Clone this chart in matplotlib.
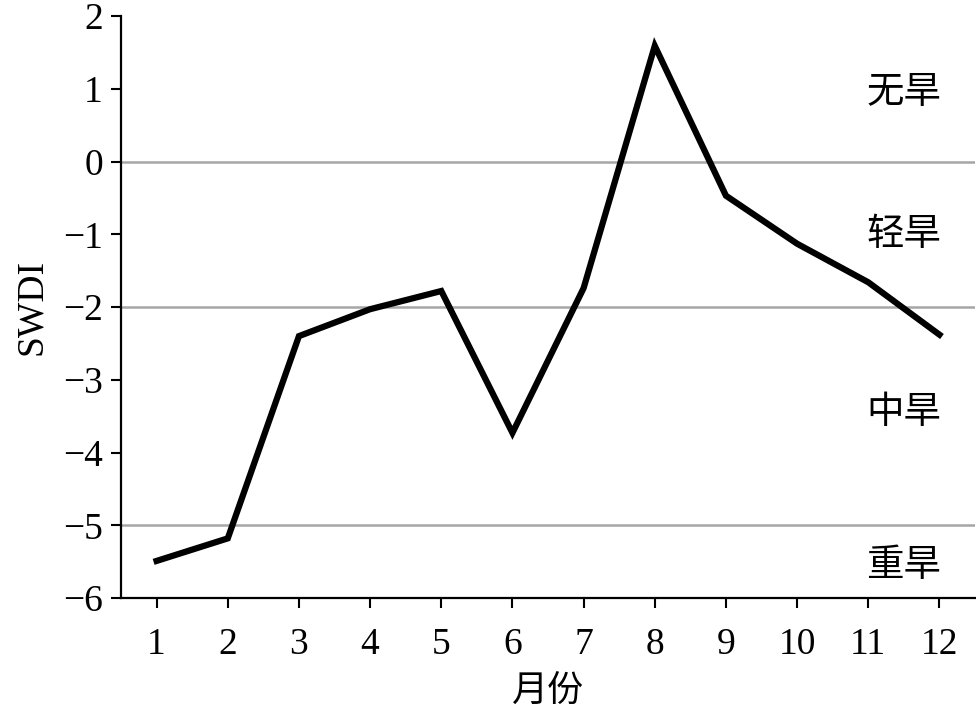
import matplotlib
matplotlib.use('Agg')
import matplotlib.pyplot as plt

# monthly SWDI values
months = [1, 2, 3, 4, 5, 6, 7, 8, 9, 10, 11, 12]
swdi = [-5.49, -5.18, -2.40, -2.03, -1.78, -3.73, -1.74, 1.59, -0.47, -1.13, -1.66, -2.38]

# drought class boundaries and labels
thresholds = [0, -2, -5]
class_labels = ['无旱', '轻旱', '中旱', '重旱']
class_label_y = [0.95, -1.0, -3.45, -5.55]

plt.rcParams['font.family'] = ['Liberation Serif', 'Noto Sans CJK SC']
plt.rcParams['axes.unicode_minus'] = True

fig = plt.figure(figsize=(9.76, 7.15), dpi=100)
ax = fig.add_axes([0.124, 0.1636, 0.875, 0.814])

for t in thresholds:
    ax.axhline(t, color='#a6a6a6', lw=1.8, zorder=1)

ax.plot(months, swdi, color='black', lw=4.5, solid_joinstyle='miter', zorder=3)

for lab, yy in zip(class_labels, class_label_y):
    ax.text(11.5, yy, lab, ha='center', va='center', fontsize=27,
            family=['Noto Sans CJK SC'])

ax.set_xlim(0.5, 12.5)
ax.set_ylim(-6, 2)
ax.set_xticks(months)
ax.set_yticks(range(-6, 3))
ax.tick_params(direction='out', length=7, width=1.5, labelsize=27)
ax.tick_params(axis='x', pad=14)
ax.tick_params(axis='y', pad=6)

for s in ['top', 'right']:
    ax.spines[s].set_visible(False)
for s in ['left', 'bottom']:
    ax.spines[s].set_linewidth(1.6)

ax.set_ylabel('SWDI', fontsize=27, labelpad=10)
ax.set_xlabel('月份', fontsize=26, family=['Noto Sans CJK SC'], labelpad=8)

fig.savefig('out.png', dpi=100)
